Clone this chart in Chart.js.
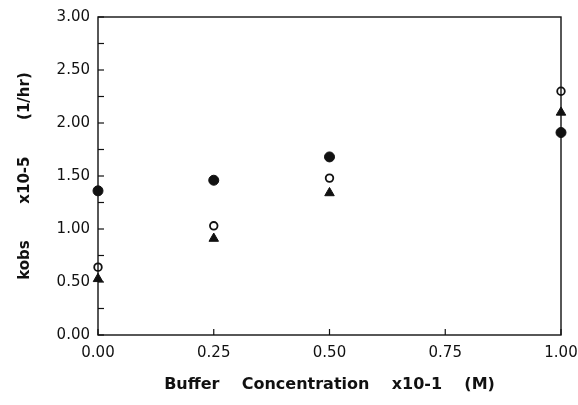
<!DOCTYPE html>
<html>
<head>
<meta charset="utf-8">
<script src="https://cdn.jsdelivr.net/npm/chart.js@4.4.0/dist/chart.umd.min.js"></script>
<style>
  html, body { margin: 0; padding: 0; background: #fff; }
  #wrap { width: 578px; height: 405px; }
</style>
</head>
<body>
<div id="wrap"><canvas id="chart" width="578" height="405"></canvas></div>
<script>
// buffer concentration (x10-1 M)
const concentrations = [0, 0.25, 0.5, 1.0];
// kobs x10-5 (1/hr), one array per marker type
const filledCircles = [1.36, 1.46, 1.68, 1.91];
const openCircles = [0.64, 1.03, 1.48, 2.30];
const triangles = [0.53, 0.91, 1.34, 2.10];

const xTicks = [0, 0.25, 0.5, 0.75, 1.0];
const yTicks = [0, 0.5, 1.0, 1.5, 2.0, 2.5, 3.0];

const ink = '#111';

function toPoints(values) {
  return concentrations.map((x, i) => ({ x, y: values[i] }));
}

// frame round the plot plus short inward tick marks on the left and bottom axes
const framePlugin = {
  id: 'frame',
  afterDraw(chart) {
    const { ctx, chartArea: area, scales } = chart;
    ctx.save();
    ctx.strokeStyle = ink;
    ctx.lineWidth = 1.4;
    ctx.strokeRect(area.left, area.top, area.right - area.left, area.bottom - area.top);
    ctx.lineWidth = 1.2;
    scales.x.ticks.forEach((t) => {
      const px = scales.x.getPixelForValue(t.value);
      ctx.beginPath();
      ctx.moveTo(px, area.bottom);
      ctx.lineTo(px, area.bottom - 6);
      ctx.stroke();
    });
    scales.y.ticks.forEach((t) => {
      const py = scales.y.getPixelForValue(t.value);
      ctx.beginPath();
      ctx.moveTo(area.left, py);
      ctx.lineTo(area.left + 6, py);
      ctx.stroke();
    });
    ctx.restore();
  },
};

new Chart(document.getElementById('chart'), {
  type: 'scatter',
  data: {
    datasets: [
      {
        label: 'filled',
        data: toPoints(filledCircles),
        pointStyle: 'circle',
        pointRadius: 5,
        backgroundColor: ink,
        borderColor: ink,
        borderWidth: 1,
      },
      {
        label: 'open',
        data: toPoints(openCircles),
        pointStyle: 'circle',
        pointRadius: 3.8,
        backgroundColor: '#fff',
        borderColor: ink,
        borderWidth: 1.8,
      },
      {
        label: 'triangle',
        data: toPoints(triangles),
        pointStyle: 'triangle',
        pointRadius: 5.5,
        backgroundColor: ink,
        borderColor: ink,
        borderWidth: 1,
      },
    ],
  },
  options: {
    responsive: false,
    animation: false,
    events: [],
    clip: false,
    layout: { padding: { top: 15, right: 17, left: 0, bottom: 0 } },
    plugins: {
      legend: { display: false },
      tooltip: { enabled: false },
    },
    scales: {
      x: {
        type: 'linear',
        min: 0,
        max: 1,
        afterBuildTicks: (scale) => {
          scale.ticks = xTicks.map((value) => ({ value }));
        },
        afterFit: (scale) => {
          scale.height = 70;
          scale.paddingLeft = 0;
          scale.paddingRight = 0;
        },
        grid: { display: false, drawTicks: false },
        border: { display: false },
        ticks: {
          color: ink,
          padding: 9,
          autoSkip: false,
          maxRotation: 0,
          font: { family: 'DejaVu Sans', size: 15 },
          callback: (value) => Number(value).toFixed(2),
        },
        title: {
          display: true,
          text: 'Buffer    Concentration    x10-1    (M)',
          color: ink,
          padding: { top: 4, bottom: 11 },
          font: { family: 'DejaVu Sans', size: 16, weight: 'bold' },
        },
      },
      y: {
        type: 'linear',
        min: 0,
        max: 3,
        afterBuildTicks: (scale) => {
          const ticks = [];
          for (let i = 0; i < yTicks.length; i++) {
            ticks.push({ value: yTicks[i] });
            if (i < yTicks.length - 1) ticks.push({ value: (yTicks[i] + yTicks[i + 1]) / 2 });
          }
          scale.ticks = ticks;
        },
        afterFit: (scale) => { scale.width = 98; },
        grid: { display: false, drawTicks: false },
        border: { display: false },
        ticks: {
          color: ink,
          padding: 8,
          autoSkip: false,
          font: { family: 'DejaVu Sans', size: 15 },
          callback: (value) => (yTicks.includes(value) ? Number(value).toFixed(2) : ''),
        },
        title: {
          display: true,
          text: 'kobs       x10-5       (1/hr)',
          color: ink,
          padding: { top: 16, bottom: 0 },
          font: { family: 'DejaVu Sans', size: 15, weight: 'bold' },
        },
      },
    },
  },
  plugins: [framePlugin],
});
</script>
</body>
</html>
